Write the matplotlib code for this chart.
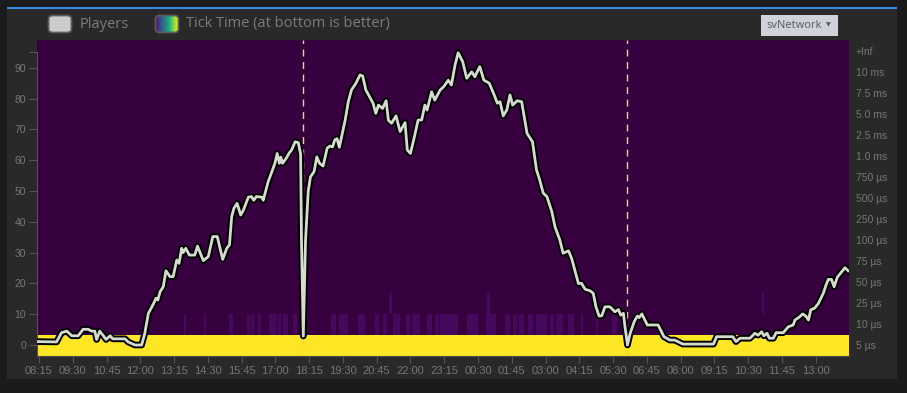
import numpy as np
import matplotlib
matplotlib.use("Agg")
import matplotlib.pyplot as plt
from matplotlib.colors import LinearSegmentedColormap, Normalize
from matplotlib.patches import FancyBboxPatch, Rectangle
from matplotlib.transforms import IdentityTransform
from matplotlib.ticker import FuncFormatter
import matplotlib.patheffects as pe

# x values are minutes after 08:15 on the first day
minutes = [-2, 39, 50, 62, 73, 87, 98, 109, 117, 124, 128, 135, 143, 149, 158, 164, 191, 198, 213, 228,
           235, 243, 253, 260, 264, 269, 276, 282, 291, 298, 306, 311, 317, 320, 326, 334, 346, 352, 365, 376,
           386, 396, 408, 417, 423, 428, 433, 440, 448, 454, 465, 472, 477, 483, 495, 498, 509, 524, 529, 534,
           537, 541, 549, 556, 561, 569, 576, 581, 583, 587, 592, 598, 603, 611, 617, 623, 631, 640, 646, 652,
           657, 662, 667, 680, 687, 694, 704, 713, 719, 726, 735, 742, 748, 754, 763, 771, 776, 783, 793, 802,
           813, 818, 825, 833, 842, 850, 857, 862, 872, 879, 891, 899, 909, 916, 924, 931, 941, 950, 961, 968,
           979, 988, 1000, 1011, 1018, 1024, 1031, 1039, 1046, 1052, 1062, 1072, 1084, 1096, 1105, 1111, 1120,
           1128, 1139, 1146, 1157, 1164, 1176, 1183, 1193, 1198, 1205, 1213, 1224, 1231, 1237, 1244, 1250,
           1257, 1268, 1279, 1287, 1292, 1298, 1301, 1307, 1313, 1322, 1329, 1333, 1339, 1351, 1375, 1388,
           1401, 1412, 1430, 1498, 1505, 1541, 1548, 1557, 1579, 1590, 1597, 1605, 1610, 1617, 1622, 1631,
           1637, 1653, 1664, 1675, 1679, 1689, 1696, 1703, 1709, 1714, 1723, 1731, 1742, 1748, 1753, 1760,
           1766, 1773, 1783, 1790, 1797]
players = [1.1, 1.0, 4.0, 4.5, 3.0, 3.0, 5.1, 5.1, 4.5, 4.5, 1.8, 4.5, 3.0, 1.8, 3.0, 2.0, 2.0, 1.0, 0.0, 0.0,
           3.8, 10.3, 13.0, 15.2, 14.6, 17.3, 18.9, 24.1, 22.2, 22.2, 27.6, 26.5, 31.4, 30.0, 31.4, 29.2, 29.2,
           32.1, 27.4, 28.7, 35.2, 35.2, 27.8, 31.4, 32.5, 41.7, 44.4, 46.0, 42.2, 43.8, 48.0, 48.2, 47.0, 48.2,
           48.0, 47.0, 53.0, 59.0, 62.2, 59.0, 61.0, 59.0, 60.6, 62.4, 63.3, 66.0, 65.7, 62.0, 34.0, 2.9, 34.0,
           50.0, 54.6, 56.3, 61.1, 59.0, 58.1, 63.9, 64.6, 64.3, 66.6, 67.0, 64.2, 73.0, 79.0, 82.8, 85.0, 87.7,
           87.3, 82.8, 80.4, 78.5, 75.2, 77.9, 76.8, 79.3, 73.0, 72.0, 74.4, 69.3, 72.2, 63.3, 62.2, 67.1, 73.0,
           73.1, 77.9, 76.3, 82.2, 79.5, 82.8, 83.9, 86.0, 84.4, 90.9, 94.9, 92.0, 86.6, 88.7, 87.1, 90.4, 86.0,
           85.0, 81.2, 78.5, 79.0, 74.4, 76.3, 81.2, 77.9, 79.3, 79.0, 68.7, 66.0, 56.8, 54.1, 49.3, 48.2, 43.3,
           38.4, 34.0, 29.8, 30.6, 28.1, 22.7, 20.0, 20.0, 18.1, 17.6, 16.8, 12.4, 9.4, 9.5, 12.4, 12.4, 10.8,
           11.5, 9.7, 10.3, 6.5, 0.0, 3.8, 7.6, 9.4, 8.9, 10.1, 6.5, 6.5, 2.7, 1.6, 1.6, 0.3, 0.3, 2.7, 2.7, 1.1,
           2.2, 2.2, 3.8, 3.2, 4.3, 3.0, 3.8, 2.2, 2.2, 4.0, 4.0, 5.9, 6.5, 8.1, 9.1, 10.1, 9.4, 8.1, 11.4, 12.0,
           13.5, 16.8, 19.5, 21.3, 21.3, 18.9, 22.0, 23.8, 25.1, 24.1]

restarts = [587, 1307]

bucket_labels = ["5 µs", "10 µs", "25 µs", "50 µs", "75 µs", "100 µs", "250 µs", "500 µs", "750 µs",
                 "1.0 ms", "2.5 ms", "5.0 ms", "7.5 ms", "10 ms", "+Inf"]
# spans (minutes) where ticks landed in the 10 µs bucket, and spots in the 25 µs bucket
span10_start = [320, 366, 423, 461, 472, 487, 511, 531, 543, 565, 648, 667, 707, 746, 765, 787, 817, 828,
                862, 879, 891, 951, 994, 1035, 1053, 1064, 1087, 1105, 1135, 1150, 1176, 1202, 1235, 1272]
span10_end = [328, 372, 432, 469, 477, 493, 528, 537, 551, 572, 661, 687, 724, 757, 774, 802, 824, 846,
              872, 887, 931, 976, 1013, 1046, 1061, 1076, 1098, 1128, 1142, 1163, 1187, 1209, 1242, 1283]
spot25 = [779, 1000, 1608]

W, H = 907, 393
fig = plt.figure(figsize=(W / 100, H / 100), dpi=100, facecolor="#1b1b1b")
tickfont = "Liberation Sans"


def fx(x):
    return x / W


def fy(y):
    return 1 - y / H


fig.add_artist(Rectangle((fx(7), fy(379)), fx(890), (379 - 8) / H, transform=fig.transFigure,
                         facecolor="#292929", edgecolor="none", zorder=0))
fig.add_artist(Rectangle((fx(7), fy(8.7)), fx(890), 2 / H, transform=fig.transFigure,
                         facecolor="#2f8de8", edgecolor="none", zorder=1))

ax = fig.add_axes([fx(37), fy(356), (849 - 37) / W, (356 - 40) / H])
ax2 = ax.twinx()
xmin, xmax = -4.4, 1799

# heatmap grid
bw = 3
edges = np.arange(-6, 1803, bw)
centers = (edges[:-1] + edges[1:]) / 2
grid = np.zeros((15, len(centers)))
grid[0, :] = 1.0
for s, e in zip(span10_start, span10_end):
    grid[1, (centers >= s) & (centers <= e)] = 0.025
for m in spot25:
    grid[2, np.abs(centers - m) <= 3] = 0.025
cmap = LinearSegmentedColormap.from_list("tick", [(0, "#37013f"), (0.025, "#46085f"), (0.3, "#3b528b"),
                                                  (0.6, "#21918c"), (0.85, "#5ec962"), (1, "#fde725")])
ax.pcolormesh(edges, np.arange(16), grid, cmap=cmap, norm=Normalize(0, 1), shading="flat")
ax.set_xlim(xmin, xmax)
ax.set_ylim(0, 15)
ax.yaxis.tick_right()
ax.yaxis.set_label_position("right")
ax.set_yticks(np.arange(15) + 0.5, bucket_labels)
ax.tick_params(axis="y", which="both", left=False, labelleft=False, right=False, labelright=True,
               length=0, pad=5, labelsize=7.5, labelcolor="#767676")
for sp in ["top", "right", "left"]:
    ax.spines[sp].set_visible(False)
ax.spines["bottom"].set_color("#4a4a4a")

ax.set_xticks(np.arange(0, 1800, 75))
ax.xaxis.set_major_formatter(FuncFormatter(
    lambda m, p: "%02d:%02d" % (((495 + int(m)) // 60) % 24, (495 + int(m)) % 60)))
ax.tick_params(axis="x", length=5, color="#555555", pad=2, labelsize=8, labelcolor="#767676")

# players on the left scale
ax2.set_ylim(-3.57, 99.03)
ax2.set_xlim(xmin, xmax)
ax2.yaxis.set_label_position("left")
ax2.set_yticks(list(range(0, 100, 10)) + [95.2], [str(v) for v in range(0, 100, 10)] + [""])
ax2.tick_params(axis="y", left=True, labelleft=True, right=False, labelright=False,
                length=6, color="#555555", pad=2, labelsize=7.5, labelcolor="#767676")
for sp in ["top", "right", "bottom"]:
    ax2.spines[sp].set_visible(False)
ax2.spines["left"].set_visible(True)
ax2.spines["left"].set_color("#555555")
ax2.spines["left"].set_bounds(-3.57, 95.2)

for lab in ax.get_xticklabels() + ax.get_yticklabels() + ax2.get_yticklabels():
    lab.set_family(tickfont)

for r in restarts:
    ax2.axvline(r, color="#f2d65a", lw=1, ls=(0, (5, 4)), zorder=2)
ax2.plot(minutes, players, color="#d6dbd0", lw=2, zorder=3, solid_joinstyle="round",
         path_effects=[pe.withStroke(linewidth=4.8, foreground="black")])

# header legend
idt = IdentityTransform()
sw1 = FancyBboxPatch((48.5, H - 32.5), 23, 17, boxstyle="round,pad=0,rounding_size=4", transform=idt,
                     facecolor="#cccccc", edgecolor="#5a5a5a", lw=1.3)
fig.add_artist(sw1)
fig.text(fx(80), fy(24), "Players", fontsize=10.5, family="Open Sans", color="#7c7c7c", va="center")

ax_sw = fig.add_axes([fx(155), fy(32.5), 23 / W, 17 / H])
ax_sw.axis("off")
grad = ax_sw.imshow(np.linspace(0, 1, 64)[None, :], cmap="viridis", aspect="auto", extent=(0, 1, 0, 1))
sw2 = FancyBboxPatch((155.5, H - 32.5), 23, 17, boxstyle="round,pad=0,rounding_size=4", transform=idt,
                     facecolor="none", edgecolor="#5a5a5a", lw=1.3)
grad.set_clip_path(sw2)
fig.add_artist(sw2)
fig.text(fx(186), fy(24), "Tick Time (at bottom is better)", fontsize=10.5, family="Open Sans",
         color="#7c7c7c", va="center")

fig.add_artist(Rectangle((fx(761), fy(35.5)), 77 / W, 20.5 / H, transform=fig.transFigure,
                         facecolor="#cfd2d9", edgecolor="none"))
fig.text(fx(766), fy(25.5), "svNetwork", fontsize=8, family="Open Sans", color="#555a60", va="center")
fig.text(fx(826), fy(24.5), "▼", fontsize=4.5, color="#555a60", va="center")

fig.savefig("out.png", dpi=100, facecolor=fig.get_facecolor())
